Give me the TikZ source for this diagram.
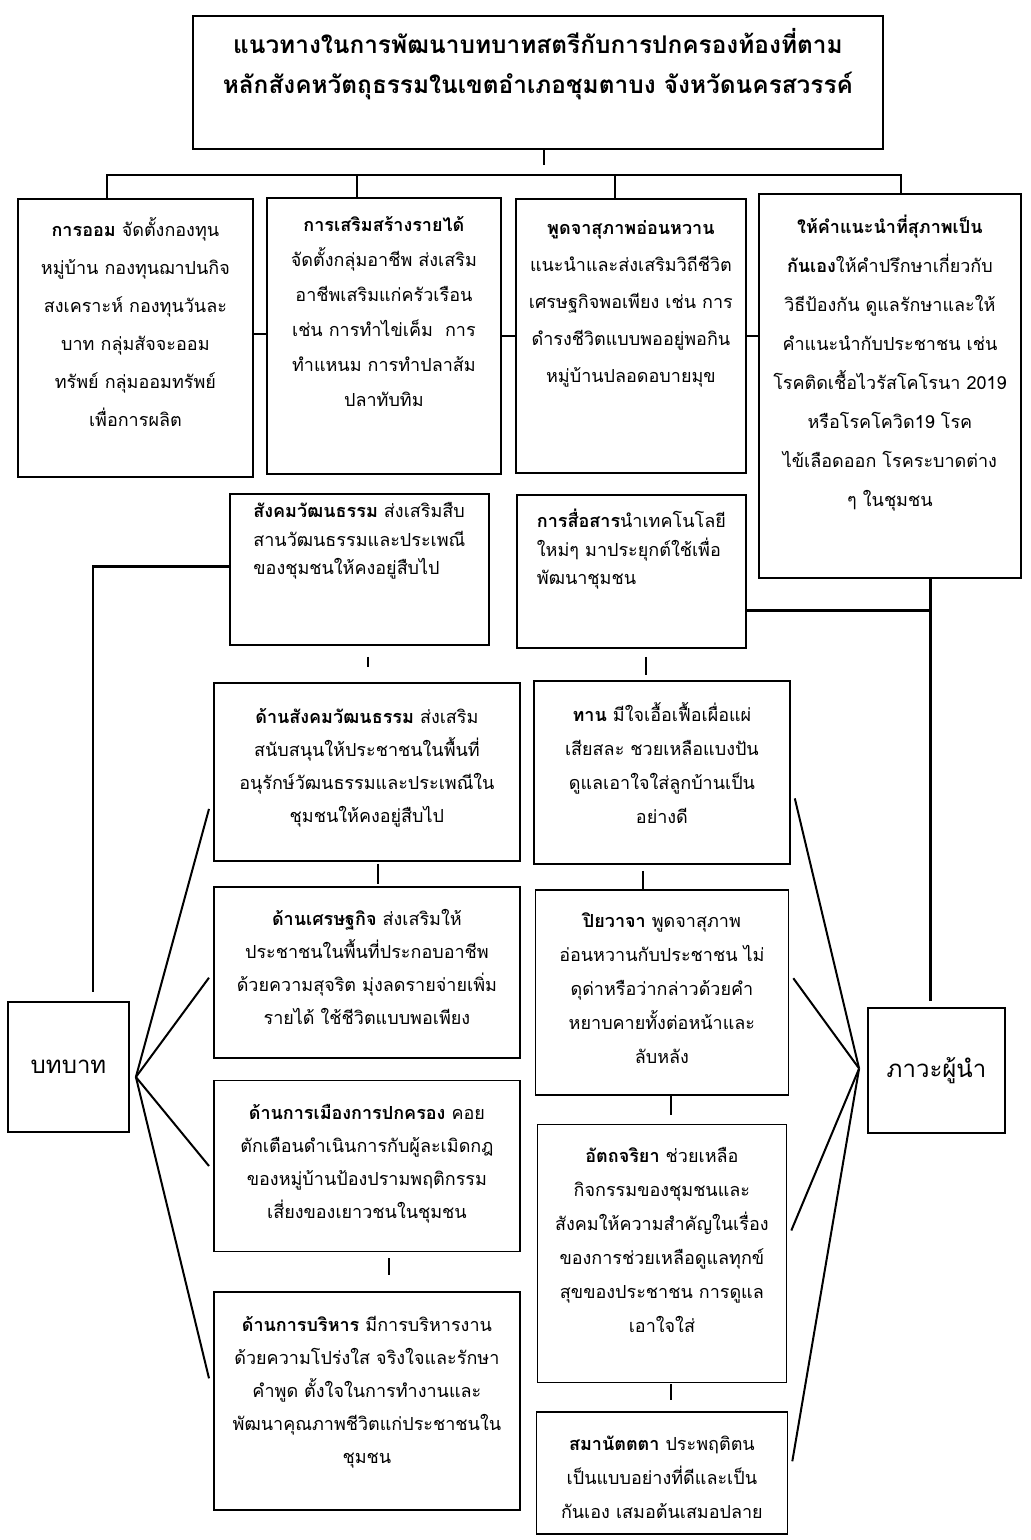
\documentclass[tikz,border=0pt]{standalone}
\usepackage{fontspec}
\newfontfamily\thaifont[Script=Thai]{Loma}
\usetikzlibrary{positioning}

\begin{document}
\begin{tikzpicture}[x=0.5pt,y=-0.5pt,
		cbox/.style n args={3}{draw,line width=0.9pt,anchor=north west,align=center,inner sep=0pt,minimum width=#1,text height=#2,text depth=#3},
		toprow/.style={font=\thaifont\fontsize{9}{#1}\selectfont},
		leftrow/.style={font=\thaifont\fontsize{9}{16.5}\selectfont},
		rightrow/.style={font=\thaifont\fontsize{9}{17}\selectfont},
		single/.style={font=\thaifont\fontsize{9}{14.25}\selectfont},
		rolebox/.style 2 args={draw,line width=0.9pt,minimum width=#1,minimum height=#2,inner sep=0pt,font=\thaifont\fontsize{12}{16}\selectfont},
		link/.style={line width=1.2pt},
		fan/.style={line width=1pt}]
		\useasboundingbox (0,0) rectangle (1031,1540);

		\node[cbox={345pt}{39pt}{27.5pt},font=\thaifont\bfseries\fontsize{12.2}{20}\selectfont]	(title)	at (192,15)	{แนวทางในการพัฒนาบทบาทสตรีกับการปกครองท้องที่ตาม\\หลักสังคหวัตถุธรรมในเขตอำเภอชุมตาบง จังหวัดนครสวรรค์};

		\node[cbox={117.5pt}{114pt}{25pt},toprow=19]	(saving)	at (17,198)	{{\bfseries การออม} จัดตั้งกองทุน\\หมู่บ้าน กองทุนฌาปนกิจ\\สงเคราะห์ กองทุนวันละ\\บาท กลุ่มสัจจะออม\\ทรัพย์ กลุ่มออมทรัพย์\\เพื่อการผลิต};
		\node[cbox={117pt}{104.5pt}{33.5pt},toprow=17.5]	(income)	at (266,197)	{{\bfseries การเสริมสร้างรายได้}\\จัดตั้งกลุ่มอาชีพ ส่งเสริม\\อาชีพเสริมแก่ครัวเรือน\\เช่น การทำไข่เค็ม\ \ การ\\ทำแหนม การทำปลาส้ม\\ปลาทับทิม};
		\node[cbox={115pt}{92pt}{45pt},toprow=18.5]	(speech)	at (515,198)	{{\bfseries พูดจาสุภาพอ่อนหวาน}\\แนะนำและส่งเสริมวิถีชีวิต\\เศรษฐกิจพอเพียง เช่น การ\\ดำรงชีวิตแบบพออยู่พอกิน\\หมู่บ้านปลอดอบายมุข};
		\node[cbox={131pt}{156.5pt}{35.5pt},toprow=19.5]	(advice)	at (758,193)	{{\bfseries ให้คำแนะนำที่สุภาพเป็น}\\{\bfseries กันเอง}ให้คำปรึกษาเกี่ยวกับ\\วิธีป้องกัน ดูแลรักษาและให้\\คำแนะนำกับประชาชน เช่น\\โรคติดเชื้อไวรัสโคโรนา 2019\\หรือโรคโควิด19 โรค\\ไข้เลือดออก โรคระบาดต่าง\\ๆ ในชุมชน};

		\node[cbox={129.5pt}{40.5pt}{35pt},single,align=left]	(culture)	at (229,493)	{{\bfseries สังคมวัฒนธรรม} ส่งเสริมสืบ\\สานวัฒนธรรมและประเพณี\\ของชุมชนให้คงอยู่สืบไป};
		\node[cbox={114.5pt}{45pt}{31.5pt},single,align=left]	(media)	at (516,494)	{{\bfseries การสื่อสาร}นำเทคโนโลยี\\ใหม่ๆ มาประยุกต์ใช้เพื่อ\\พัฒนาชุมชน};

		\node[cbox={153pt}{70pt}{19pt},leftrow]	(dsoc)	at (213,682)	{{\bfseries ด้านสังคมวัฒนธรรม} ส่งเสริม\\สนับสนุนให้ประชาชนในพื้นที่\\อนุรักษ์วัฒนธรรมและประเพณีใน\\ชุมชนให้คงอยู่สืบไป};
		\node[cbox={153pt}{69pt}{16.5pt},leftrow,below=12pt of dsoc]	(decon)	{{\bfseries ด้านเศรษฐกิจ} ส่งเสริมให้\\ประชาชนในพื้นที่ประกอบอาชีพ\\ด้วยความสุจริต มุ่งลดรายจ่ายเพิ่ม\\รายได้ ใช้ชีวิตแบบพอเพียง};
		\node[cbox={153pt}{69pt}{16.5pt},leftrow,below=10.5pt of decon]	(dpol)	{{\bfseries ด้านการเมืองการปกครอง} คอย\\ตักเตือนดำเนินการกับผู้ละเมิดกฎ\\ของหมู่บ้านป้องปรามพฤติกรรม\\เสี่ยงของเยาวชนในชุมชน};
		\node[cbox={153pt}{85.5pt}{23.5pt},leftrow,below=19.5pt of dpol]	(dadm)	{{\bfseries ด้านการบริหาร} มีการบริหารงาน\\ด้วยความโปร่งใส จริงใจและรักษา\\คำพูด ตั้งใจในการทำงานและ\\พัฒนาคุณภาพชีวิตแก่ประชาชนใน\\ชุมชน};

		\node[cbox={128pt}{71.5pt}{20pt},rightrow]	(dana)	at (533,680)	{{\bfseries ทาน} มีใจเอื้อเฟื้อเผื่อแผ่\\เสียสละ ชวยเหลือแบงปัน\\ดูแลเอาใจใส่ลูกบ้านเป็น\\อย่างดี};
		\node[cbox={126.5pt}{87pt}{15.5pt},rightrow,below=12pt of dana]	(piya)	{{\bfseries ปิยวาจา} พูดจาสุภาพ\\อ่อนหวานกับประชาชน ไม่\\ดุด่าหรือว่ากล่าวด้วยคำ\\หยาบคายทั้งต่อหน้าและ\\ลับหลัง};
		\node[cbox={124.5pt}{104pt}{25pt},rightrow,below=14pt of piya]	(attha)	{{\bfseries อัตถจริยา} ช่วยเหลือ\\กิจกรรมของชุมชนและ\\สังคมให้ความสำคัญในเรื่อง\\ของการช่วยเหลือดูแลทุกข์\\สุขของประชาชน การดูแล\\เอาใจใส่};
		\node[cbox={125.5pt}{53pt}{8pt},rightrow,below=14pt of attha]	(saman)	{{\bfseries สมานัตตตา} ประพฤติตน\\เป็นแบบอย่างที่ดีและเป็น\\กันเอง เสมอต้นเสมอปลาย};

		\node[rolebox={60.5pt}{65pt}]	(role)	at (68.5,1067)	{บทบาท};
		\node[rolebox={68.5pt}{62.5pt}]	(leader)	at (936.5,1070.5)	{ภาวะผู้นำ};

		\coordinate (b1) at (107,175);
		\coordinate (b2) at (357,175);
		\coordinate (b3) at (615,175);
		\coordinate (b4) at (901,175);
		\coordinate (lead) at ([xshift=-3pt,yshift=3pt]leader.north);
		\coordinate (rfan) at ([xshift=3pt,yshift=-5pt]role.east);
		\coordinate (lfan) at ([xshift=-4pt,yshift=1pt]leader.west);

		\draw[link] ([xshift=3pt]title.south) -- ([xshift=3pt,yshift=-7.5pt]title.south);
		\draw[link] (saving.north -| b1) -- (b1) -- (b4) -- (advice.north -| b4);
		\draw[link] (b2) -- (income.north -| b2);
		\draw[link] (b3) -- (speech.north -| b3);
		\draw[link] ([yshift=2pt]saving.east) -- ([yshift=2pt]saving.east -| income.west);
		\draw[link] (income.east) -- (speech.west);
		\draw[link] (speech.east) -- (speech.east -| advice.west);

		\draw[link] ([yshift=1.5pt]culture.west) -| ([xshift=12.25pt,yshift=4.5pt]role.north);
		\draw[link] (advice.south -| lead) -- (lead);
		\draw[link] ([yshift=-19.5pt]media.east) -- ([yshift=-19.5pt]media.east -| lead);

		\foreach \a/\b/\dx/\s/\e in {culture/dsoc/0.5/5.5/7.5, media/dana/-8/4/2.5, dsoc/decon/5.5/1/1, dana/piya/-9.5/3/0, dpol/dadm/11/3/8, piya/attha/4.5/0/4.5, attha/saman/4.5/0.5/5.5}
			\draw[link,shorten <=\s pt,shorten >=\e pt] ([xshift=\dx pt]\b.north |- \a.south) -- ([xshift=\dx pt]\b.north);

		\foreach \b/\dy in {dsoc/-18.5, decon/-2.75, dpol/0, dadm/11.5}
			\draw[fan] (rfan) -- ([xshift=-2pt,yshift=\dy pt]\b.west);
		\foreach \b/\dy in {dana/-13, piya/7, attha/11.5, saman/6}
			\draw[fan] (lfan) -- ([xshift=2pt,yshift=\dy pt]\b.east);
	\end{tikzpicture}
\end{document}
